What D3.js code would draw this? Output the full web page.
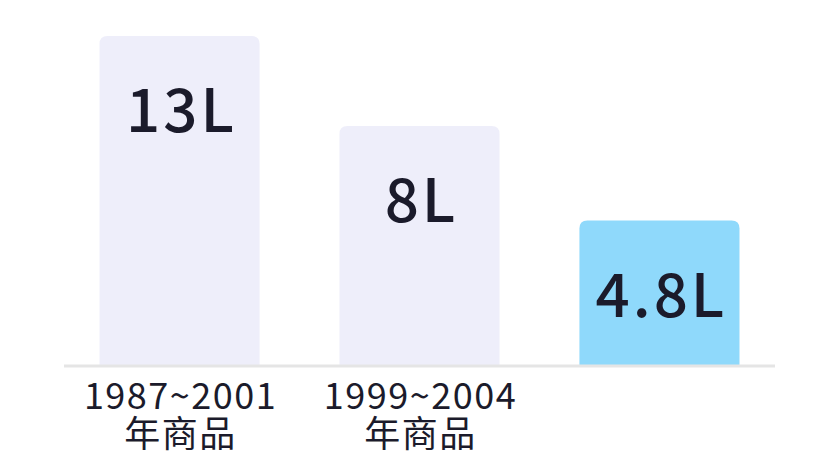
<!DOCTYPE html>
<html>
<head>
<meta charset="utf-8">
<script src="https://cdn.jsdelivr.net/npm/d3@7"></script>
<style>
  body { margin: 0; background: #fff; overflow: hidden; }
  svg { display: block; }
  text { font-family: "Noto Sans CJK SC", "Noto Sans", sans-serif; fill: #1b1b2b; }
</style>
</head>
<body>
<svg class="chart"></svg>
<script>
const periods = ["1987~2001", "1999~2004", "now"];
const periodYears = ["1987~2001", "1999~2004", ""];
const periodSuffix = ["年商品", "年商品", ""];
const litres = [13, 8, 4.8];
const valueLabels = ["13L", "8L", "4.8L"];
const barColors = ["#eeeefa", "#eeeefa", "#8fd9fb"];

const width = 838;
const height = 466;
const margin = { top: 36, right: 63, bottom: 101, left: 64 };
const innerWidth = width - margin.left - margin.right;
const innerHeight = height - margin.top - margin.bottom;

const svg = d3.select(".chart").attr("width", width).attr("height", height);
const g = svg.append("g").attr("transform", `translate(${margin.left}, ${margin.top})`);

const xScale = d3.scaleBand().domain(periods).range([0, innerWidth]).paddingInner(0.333).paddingOuter(0.148);
// heights in the original are not proportional, a log scale follows them closely
const yScale = d3.scaleLog().domain([2.2, 13]).range([innerHeight, 0]);

const r = 8;
const barPath = (x, y, w, h) =>
  `M${x},${y + h}V${y + r}Q${x},${y} ${x + r},${y}H${x + w - r}Q${x + w},${y} ${x + w},${y + r}V${y + h}Z`;

g.selectAll("path.bar").data(litres).join("path").attr("class", "bar")
  .attr("d", (d, i) => barPath(xScale(periods[i]), yScale(d), xScale.bandwidth(), innerHeight - yScale(d)))
  .attr("fill", (d, i) => barColors[i]);

g.append("line")
  .attr("x1", 0).attr("x2", innerWidth)
  .attr("y1", innerHeight + 1).attr("y2", innerHeight + 1)
  .attr("stroke", "#e5e5e5").attr("stroke-width", 3);

g.selectAll("text.value").data(litres).join("text").attr("class", "value")
  .attr("x", (d, i) => xScale(periods[i]) + xScale.bandwidth() / 2 + 2)
  .attr("y", d => yScale(d) + 96)
  .attr("text-anchor", "middle")
  .attr("font-size", 60)
  .attr("font-weight", 500)
  .attr("letter-spacing", 3)
  .text((d, i) => valueLabels[i]);

[periodYears, periodSuffix].forEach((lines, row) => {
  g.selectAll(`text.cat${row}`).data(lines.filter(t => t)).join("text").attr("class", `cat${row}`)
    .attr("x", (d, i) => xScale(periods[i]) + xScale.bandwidth() / 2 + 1)
    .attr("y", innerHeight + 44 + row * 38)
    .attr("text-anchor", "middle")
    .attr("font-size", 36)
    .attr("letter-spacing", 1.5)
    .text(d => d);
});
</script>
</body>
</html>
